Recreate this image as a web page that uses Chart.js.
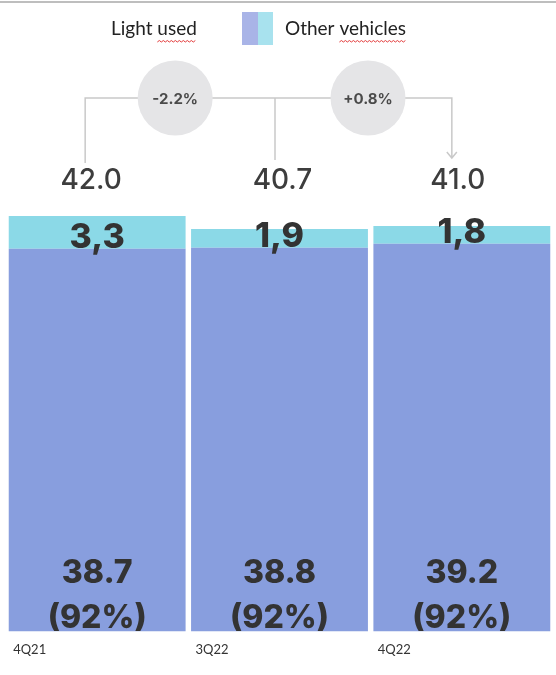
<!DOCTYPE html>
<html>
<head>
<meta charset="utf-8">
<script src="https://cdn.jsdelivr.net/npm/chart.js@4"></script>
<style>
  body { margin: 0; background: #fff; }
  #wrap { width: 556px; height: 675px; }
</style>
</head>
<body>
<div id="wrap"><canvas id="chart" width="556" height="675"></canvas></div>
<script>
const categories = ['4Q21', '3Q22', '4Q22'];
const lightUsed = [38.7, 38.8, 39.2];
const otherVehicles = [3.3, 1.9, 1.8];
const totalLabels = ['42.0', '40.7', '41.0'];
const otherLabels = ['3,3', '1,9', '1,8'];
const shareLabels = ['(92%)', '(92%)', '(92%)'];
const changeLabels = ['-2.2%', '+0.8%'];
const seriesNames = ['Light used', 'Other vehicles'];

const purple = '#889ede';
const cyan = '#8bd9e7';

// squiggly spell-check underline, like in the source picture
function squiggle(ctx, x1, x2, y) {
  ctx.save();
  ctx.strokeStyle = '#e23a3a';
  ctx.lineWidth = 1;
  ctx.beginPath();
  let up = true;
  ctx.moveTo(x1, y);
  for (let x = x1 + 2; x <= x2; x += 2) {
    ctx.lineTo(x, up ? y - 1.5 : y);
    up = !up;
  }
  ctx.stroke();
  ctx.restore();
}

const overlay = {
  id: 'overlay',
  afterDatasetsDraw(chart) {
    const ctx = chart.ctx;
    const yScale = chart.scales.y;
    const light = chart.getDatasetMeta(0).data;
    const bottom = yScale.getPixelForValue(0);

    ctx.save();

    // top frame line
    ctx.strokeStyle = '#a8a8a8';
    ctx.lineWidth = 1.5;
    ctx.beginPath();
    ctx.moveTo(0, 2);
    ctx.lineTo(chart.width, 2);
    ctx.stroke();

    // legend
    ctx.fillStyle = '#222';
    ctx.font = '19px Lato';
    ctx.textAlign = 'left';
    ctx.textBaseline = 'middle';
    ctx.fillText(seriesNames[0], 111, 29);
    const w0 = ctx.measureText(seriesNames[0]).width;
    squiggle(ctx, 111 + ctx.measureText('Light ').width, 111 + w0, 42);
    ctx.fillStyle = '#a9b4e7';
    ctx.fillRect(242, 12, 16, 33);
    ctx.fillStyle = '#a8e2ee';
    ctx.fillRect(258, 12, 15, 33);
    ctx.fillStyle = '#222';
    ctx.fillText(seriesNames[1], 285, 29);
    const w1 = ctx.measureText(seriesNames[1]).width;
    squiggle(ctx, 285 + ctx.measureText('Other ').width, 285 + w1, 42);

    // change bracket
    const xa = light[0].x - 12;
    const xb = light[1].x - 4.5;
    const xc = light[2].x - 10;
    const yb = 98;
    ctx.strokeStyle = '#c9c9c9';
    ctx.lineWidth = 1.5;
    ctx.beginPath();
    ctx.moveTo(xa, 163);
    ctx.lineTo(xa, yb);
    ctx.lineTo(xc, yb);
    ctx.lineTo(xc, 158);
    ctx.moveTo(xb, yb);
    ctx.lineTo(xb, 160);
    ctx.moveTo(xc - 5, 152);
    ctx.lineTo(xc, 158);
    ctx.lineTo(xc + 5, 152);
    ctx.stroke();

    const circles = [xa + 90, xb + 93];
    circles.forEach((cx, i) => {
      ctx.fillStyle = '#e5e5e7';
      ctx.beginPath();
      ctx.arc(cx, yb, 37.5, 0, Math.PI * 2);
      ctx.fill();
      ctx.fillStyle = '#4a4a4a';
      ctx.font = '700 15px Inter';
      ctx.textAlign = 'center';
      ctx.fillText(changeLabels[i], cx, yb + 1);
    });

    // totals above the bars
    const totalShift = [-6, 3, -4];
    ctx.fillStyle = '#3d3d3d';
    ctx.font = '500 28px Inter';
    totalLabels.forEach((t, i) => {
      ctx.fillText(t, light[i].x + totalShift[i], 181);
    });

    // values inside the bars
    ctx.fillStyle = '#333';
    light.forEach((bar, i) => {
      ctx.font = '800 34px Inter';
      ctx.fillText(otherLabels[i], bar.x, yScale.getPixelForValue(lightUsed[i]) - 11);
      ctx.font = '800 32px Inter';
      ctx.fillText(lightUsed[i].toFixed(1), bar.x, bottom - 58);
      ctx.fillText(shareLabels[i], bar.x, bottom - 13);
    });

    ctx.restore();
  }
};

new Chart(document.getElementById('chart'), {
  type: 'bar',
  data: {
    labels: categories,
    datasets: [
      {
        label: seriesNames[0],
        data: lightUsed,
        backgroundColor: purple,
        barPercentage: 1,
        categoryPercentage: 0.97
      },
      {
        label: seriesNames[1],
        data: otherVehicles,
        backgroundColor: cyan,
        barPercentage: 1,
        categoryPercentage: 0.97
      }
    ]
  },
  options: {
    responsive: false,
    animation: false,
    layout: {
      padding: { top: 137, left: 6, right: 3, bottom: 6 }
    },
    scales: {
      x: {
        stacked: true,
        grid: { display: false, drawTicks: false },
        border: { display: false },
        ticks: {
          align: 'start',
          labelOffset: -84,
          padding: 11,
          maxRotation: 0,
          autoSkip: false,
          color: '#333',
          font: { family: 'Lato', size: 13 }
        }
      },
      y: {
        stacked: true,
        display: false,
        min: 0,
        max: 50
      }
    },
    plugins: {
      legend: { display: false },
      tooltip: { enabled: false }
    }
  },
  plugins: [overlay]
});
</script>
</body>
</html>
